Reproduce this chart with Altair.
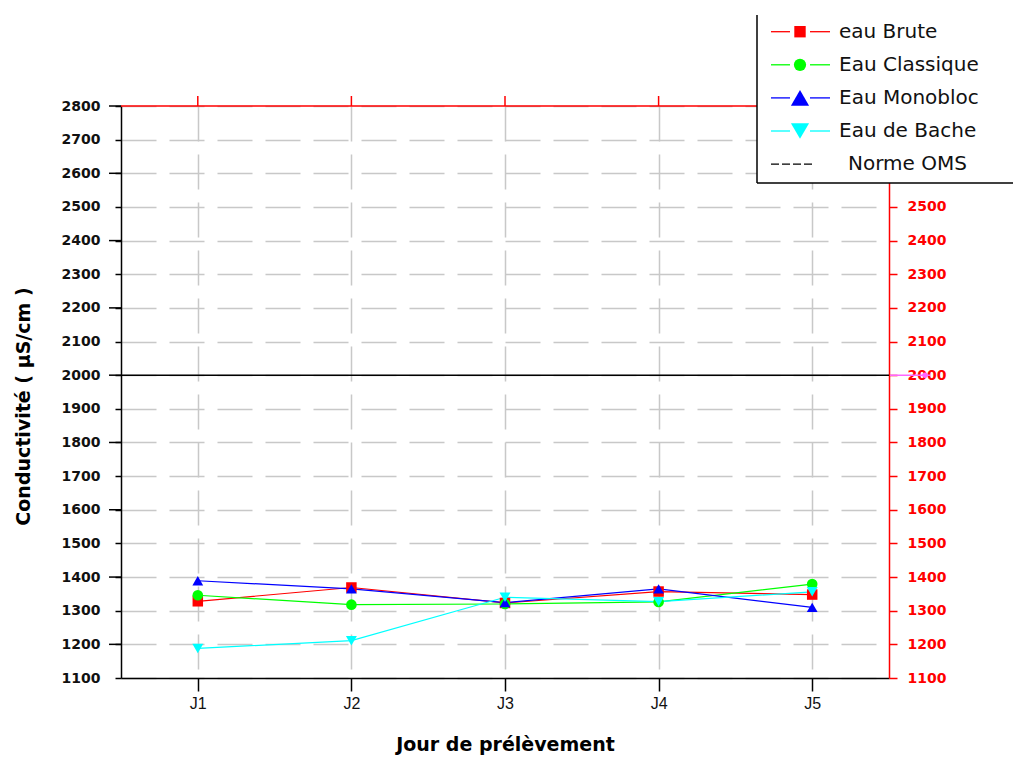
import altair as alt
import pandas as pd

# ---- data ----
days = ["J1", "J2", "J3", "J4", "J5"]
series_names = ["eau Brute", "Eau Classique", "Eau Monobloc", "Eau de Bache"]
eau_brute = [1328, 1369, 1323, 1357, 1348]
eau_classique = [1346, 1318, 1320, 1326, 1379]
eau_monobloc = [1389, 1365, 1324, 1365, 1310]
eau_bache = [1188, 1211, 1340, 1327, 1356]
norme_label = "Norme OMS"
norme_oms = 2000
y_ticks = list(range(1100, 2900, 100))
y_major = list(range(1200, 2900, 200))
right_labels_visible = list(range(1100, 2600, 100))
y_title = "Conductivité ( µS/cm )"
x_title = "Jour de prélèvement"

colors = ["#ff0000", "#00ff00", "#0000ff", "#00ffff"]
shapes = ["square", "circle", "triangle-up", "triangle-down"]
plot_sizes = [110, 120, 190, 190]
legend_sizes = [130, 150, 330, 330]

rows = []
for name, vals in zip(series_names, [eau_brute, eau_classique, eau_monobloc, eau_bache]):
    for d, v in zip(days, vals):
        rows.append({"series": name, "day": d, "value": v})
df = pd.DataFrame(rows)

W, H = 768, 572
GRID = "#c8c8c8"

yscale = alt.Scale(domain=[y_ticks[0], y_ticks[-1]], zero=False, nice=False)
xscale = alt.Scale(type="point", padding=0.5, domain=days)

x_axis = alt.Axis(
    title=x_title, labelAngle=0, grid=True, gridColor=GRID, gridDash=[35, 13], gridWidth=1.5,
    domainColor="black", domainWidth=1.5, tickColor="black", tickSize=13, tickWidth=1.5,
    labelFont="Liberation Sans", labelFontSize=16, labelColor="#111111", labelPadding=4,
    titleFont="DejaVu Sans", titleFontSize=19, titleFontWeight="bold", titleColor="black",
    titleY=57, titleBaseline="top",
)
X = alt.X("day:N", scale=xscale, axis=x_axis, sort=days)

left_axis = alt.Axis(
    values=y_ticks, format="d", title=y_title, grid=True, gridColor=GRID, gridDash=[35, 13],
    gridWidth=1.5, domainColor="black", domainWidth=1.5, tickColor="black", tickSize=6,
    tickWidth=1.5, labelFont="DejaVu Sans", labelFontWeight="bold", labelFontSize=14,
    labelColor="#111111", labelPadding=15, titleFont="DejaVu Sans", titleFontSize=19,
    titleFontWeight="bold", titleColor="black", titleX=-98, titleY=300,
    titleBaseline="middle", titleAlign="center", titleAngle=270,
)

color = alt.Color("series:N", scale=alt.Scale(domain=series_names, range=colors), legend=None)
shape = alt.Shape("series:N", scale=alt.Scale(domain=series_names, range=shapes), legend=None)
size = alt.Size("series:N", scale=alt.Scale(domain=series_names, range=plot_sizes), legend=None)

lines = alt.Chart(df).mark_line(strokeWidth=1.2).encode(
    x=X, y=alt.Y("value:Q", scale=yscale, axis=left_axis), color=color,
    order=alt.Order("day:N"),
)
points = alt.Chart(df).mark_point(filled=True, opacity=1).encode(
    x=X, y=alt.Y("value:Q", scale=yscale, axis=None), color=color, shape=shape, size=size,
)

norm_rule = alt.Chart(pd.DataFrame({"n": [norme_oms]})).mark_rule(color="black", strokeWidth=1.5).encode(
    y=alt.Y("n:Q", scale=yscale, axis=None)
)
top_rule = alt.Chart(pd.DataFrame({"n": [y_ticks[-1]]})).mark_rule(color="#ff0000", strokeWidth=1.5).encode(
    y=alt.Y("n:Q", scale=yscale, axis=None)
)
magenta_rule = alt.Chart(pd.DataFrame({"n": [norme_oms]})).mark_rule(color="#ff66ff", strokeWidth=1.5).encode(
    y=alt.Y("n:Q", scale=yscale, axis=None), x=alt.value(W + 1), x2=alt.value(W + 41)
)
magenta_dot = alt.Chart(pd.DataFrame({"n": [norme_oms]})).mark_point(
    color="#ff66ff", filled=True, opacity=1, size=30, shape="circle"
).encode(y=alt.Y("n:Q", scale=yscale, axis=None), x=alt.value(W + 36))

long_ticks = alt.Chart(pd.DataFrame({"v": y_major})).mark_rule(color="black", strokeWidth=1.5).encode(
    y=alt.Y("v:Q", scale=yscale, axis=None), x=alt.value(-12), x2=alt.value(0)
)
top_ticks = alt.Chart(pd.DataFrame({"day": days})).mark_rule(color="#ff0000", strokeWidth=1.5).encode(
    x=X, y=alt.value(-10), y2=alt.value(0)
)

right_axis = alt.Axis(
    orient="right", values=right_labels_visible, format="d", title=None, grid=False,
    domainColor="#ff0000", domainWidth=1.5, tickColor="#ff0000", tickSize=8, tickWidth=1.5,
    labelColor="#ff0000", labelFont="DejaVu Sans", labelFontWeight="bold", labelFontSize=14,
    labelPadding=10,
)
right_layer = alt.Chart(pd.DataFrame({"v": y_ticks})).mark_tick(opacity=0).encode(
    y=alt.Y("v:Q", scale=yscale, axis=right_axis)
)

# ---- legend box (drawn over axes) ----
one = pd.DataFrame({"k": [0]})
box_left, box_right, box_top, box_bottom = 636, 900, -91, 77
legend_layers = [
    alt.Chart(one).mark_rect(color="white").encode(
        x=alt.value(box_left), x2=alt.value(box_right), y=alt.value(box_top), y2=alt.value(box_bottom)
    ),
    alt.Chart(one).mark_rule(color="black", strokeWidth=1.5).encode(
        x=alt.value(box_left), y=alt.value(box_top), y2=alt.value(box_bottom)
    ),
    alt.Chart(one).mark_rule(color="black", strokeWidth=1.5).encode(
        x=alt.value(box_left), x2=alt.value(box_right), y=alt.value(box_bottom)
    ),
]
row0, step = -74.3, 33.1
for i, name in enumerate(series_names):
    yy = row0 + i * step
    for xa, xb in [(650, 669), (689, 709)]:
        legend_layers.append(
            alt.Chart(one).mark_rule(color=colors[i], strokeWidth=1.3).encode(
                x=alt.value(xa), x2=alt.value(xb), y=alt.value(yy)
            )
        )
    legend_layers.append(
        alt.Chart(one).mark_point(
            shape=shapes[i], filled=True, opacity=1, color=colors[i], size=legend_sizes[i]
        ).encode(x=alt.value(679), y=alt.value(yy))
    )
    legend_layers.append(
        alt.Chart(pd.DataFrame({"label": [name]})).mark_text(
            align="left", baseline="middle", font="DejaVu Sans", fontSize=20, color="#111111"
        ).encode(x=alt.value(718), y=alt.value(yy), text="label:N")
    )
yy = row0 + 4 * step
legend_layers.append(
    alt.Chart(one).mark_rule(color="black", strokeWidth=1.3, strokeDash=[8, 3]).encode(
        x=alt.value(650), x2=alt.value(692), y=alt.value(yy)
    )
)
legend_layers.append(
    alt.Chart(pd.DataFrame({"label": [norme_label]})).mark_text(
        align="left", baseline="middle", font="DejaVu Sans", fontSize=20, color="#111111"
    ).encode(x=alt.value(727), y=alt.value(yy), text="label:N")
)

chart = alt.layer(
    lines, points, norm_rule, top_rule, magenta_rule, magenta_dot, long_ticks, top_ticks,
    right_layer, *legend_layers
).resolve_scale(y="independent").properties(
    width=W, height=H,
    padding={"left": 121, "top": 106, "right": 124, "bottom": 82},
    autosize=alt.AutoSizeParams(type="none"),
    background="white",
).configure_view(strokeWidth=0)

chart.save("out.html", embed_options={"renderer": "svg", "actions": False})
